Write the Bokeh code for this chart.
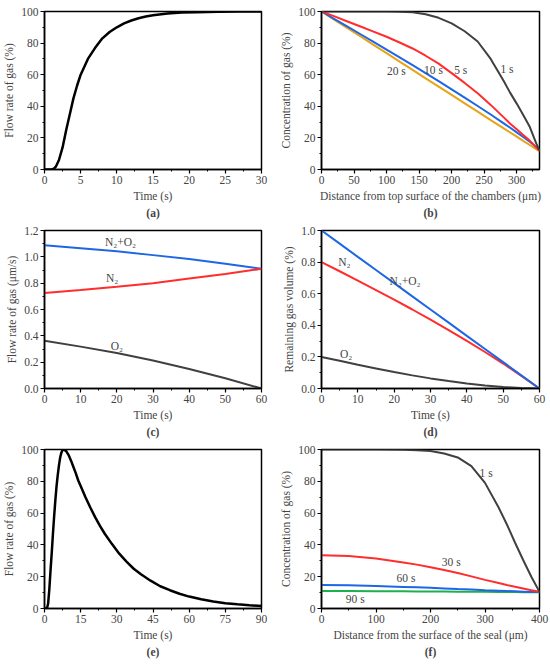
from bokeh.plotting import figure
from bokeh.layouts import gridplot
from bokeh.models import Range1d, FixedTicker, NumeralTickFormatter, Title, Label
from bokeh.embed import file_html
from bokeh.resources import INLINE

FONT = "Liberation Serif"
FS = "11.5px"

# (a) flow rate of gas vs time
a_time = [0, 0.5, 1.0, 1.3, 1.6, 2.0, 2.5, 3.0, 3.5, 4.0, 4.5, 5.0, 6.0, 7.0, 8.0,
          9.0, 10, 11, 12, 13, 14, 15, 17, 19, 21, 24, 27, 30]
a_flow = [0, 0, 0, 0.5, 2, 6, 14, 25, 35, 45, 53, 60, 70, 77, 83,
          87, 90, 92.5, 94.3, 95.7, 96.8, 97.6, 98.7, 99.3, 99.6, 99.9, 100, 100]

# (b) concentration vs distance from top surface of the chambers
b_dist = [0, 20, 40, 60, 80, 100, 120, 140, 160, 180, 200, 220, 240, 260, 280, 290, 300, 310, 320, 330, 335]
b_1s = [100, 100, 100, 100, 100, 100, 99.9, 99.5, 98.3, 96, 92.5, 87.5, 81, 70, 56,
        48.5, 41.7, 34.5, 27, 16.5, 12]
b_5s = [100, 96.9, 93.7, 90.5, 87.3, 84, 80.4, 76.6, 72, 67, 61, 54.8, 48.2, 40.9, 33,
        29, 25.5, 21.8, 18.3, 14, 12]
b_10s = [100, 95.2, 90.4, 85.6, 80.8, 75.9, 71, 66, 61, 55.9, 50.7, 45.5, 40.2, 34.8, 29.2,
         26.4, 23.5, 20.6, 17.6, 14.3, 12]
b_20s = [100, 94.7, 89.4, 84.2, 78.9, 73.6, 68.3, 63, 57.7, 52.5, 47.2, 41.9, 36.6, 31.3, 26,
         23.4, 20.8, 18.1, 15.5, 12.9, 11.5]

# (c) flow rate of gas (um/s) vs time
c_time = [0, 10, 20, 30, 40, 50, 60]
c_sum = [1.088, 1.066, 1.043, 1.013, 0.983, 0.948, 0.909]
c_n2 = [0.725, 0.748, 0.773, 0.80, 0.835, 0.87, 0.909]
c_o2 = [0.362, 0.318, 0.27, 0.212, 0.148, 0.078, 0.0]

# (d) remaining gas volume vs time
d_time = [0, 5, 10, 15, 20, 25, 30, 35, 40, 45, 50, 55, 60]
d_sum = [1.0, 0.917, 0.833, 0.75, 0.667, 0.583, 0.5, 0.417, 0.333, 0.25, 0.167, 0.083, 0.0]
d_n2 = [0.8, 0.742, 0.683, 0.623, 0.563, 0.5, 0.436, 0.37, 0.301, 0.231, 0.158, 0.08, 0.0]
d_o2 = [0.2, 0.175, 0.15, 0.127, 0.104, 0.083, 0.064, 0.047, 0.032, 0.019, 0.009, 0.003, 0.0]

# (e) flow rate of gas vs time
e_time = [0, 1, 1.5, 2, 2.5, 3, 3.5, 4, 4.5, 5, 5.5, 6, 6.5, 7, 7.5, 8, 9, 10, 11, 12, 13, 14,
          15, 17, 19, 21, 23, 25, 28, 31, 34, 37, 40, 44, 48, 52, 56, 60, 65, 70, 75, 80, 85, 90]
e_flow = [0, 0, 3, 12, 24, 35, 47, 58, 68, 77, 84, 90, 95, 98, 99.7, 100, 99, 96.5, 93, 89, 85,
          80.5, 77, 70, 63.5, 57.5, 52, 47, 40.5, 34.5, 29.5, 25, 21.5, 17.5, 14, 11.5, 9.3, 7.5,
          5.8, 4.4, 3.3, 2.6, 2, 1.5]

# (f) concentration vs distance from the surface of the seal
f_dist = [0, 50, 100, 150, 175, 200, 225, 250, 275, 300, 325, 340, 355, 370, 385, 400]
f_1s = [100, 100, 100, 99.8, 99.5, 99, 97.5, 95, 89.5, 79, 63.5, 53, 41.5, 30.5, 20, 10.5]
f_30s = [33.5, 33, 31.5, 29, 27.6, 26, 24.2, 22.3, 20.2, 18, 16, 14.8, 13.7, 12.6, 11.5, 10.5]
f_60s = [14.8, 14.6, 14.2, 13.6, 13.3, 13, 12.6, 12.2, 11.9, 11.5, 11.2, 11, 10.8, 10.6, 10.4, 10.3]
f_90s = [11, 11, 10.9, 10.8, 10.75, 10.7, 10.65, 10.6, 10.55, 10.5, 10.4, 10.35, 10.3, 10.25, 10.2, 10.2]

# tick positions
pct_ticks = [0, 20, 40, 60, 80, 100]
pct_minor = [10, 30, 50, 70, 90]
frac12_ticks = [0, 0.2, 0.4, 0.6, 0.8, 1.0, 1.2]
frac12_minor = [0.1, 0.3, 0.5, 0.7, 0.9, 1.1]
frac10_ticks = [0, 0.2, 0.4, 0.6, 0.8, 1.0]
frac10_minor = [0.1, 0.3, 0.5, 0.7, 0.9]
a_ticks = [0, 5, 10, 15, 20, 25, 30]
a_minor = [2.5, 7.5, 12.5, 17.5, 22.5, 27.5]
b_ticks = [0, 50, 100, 150, 200, 250, 300]
b_minor = [25, 75, 125, 175, 225, 275, 325]
cd_ticks = [0, 10, 20, 30, 40, 50, 60]
cd_minor = [5, 15, 25, 35, 45, 55]
e_ticks = [0, 15, 30, 45, 60, 75, 90]
e_minor = [7.5, 22.5, 37.5, 52.5, 67.5, 82.5]
f_ticks = [0, 100, 200, 300, 400]
f_minor = [50, 150, 250, 350]

BLACK = "#000000"
GRAY = "#404040"
RED = "#FF2D2D"
BLUE = "#1F66E5"
ORANGE = "#E8A317"
GREEN = "#1EB04E"


def panel(xlab, ylab, cap, xr, yr, xt, yt, w, h, left, right, top, bottom, yfmt=None):
    p = figure(width=w, height=h, x_range=Range1d(*xr), y_range=Range1d(*yr),
               toolbar_location=None, output_backend="svg",
               min_border_left=left, min_border_right=right, min_border_top=top,
               min_border_bottom=bottom)
    p.xaxis.ticker = FixedTicker(ticks=xt[0], minor_ticks=xt[1])
    p.yaxis.ticker = FixedTicker(ticks=yt[0], minor_ticks=yt[1])
    if yfmt:
        p.yaxis.formatter = NumeralTickFormatter(format=yfmt)
    p.xaxis.axis_label = xlab
    p.yaxis.axis_label = ylab
    for ax in (p.xaxis, p.yaxis):
        ax.axis_label_text_font = FONT
        ax.axis_label_text_font_size = FS
        ax.axis_label_text_font_style = "normal"
        ax.major_label_text_font = FONT
        ax.major_label_text_font_size = FS
        ax.axis_line_width = 1.5
        ax.major_tick_in = 0
        ax.major_tick_out = 4
        ax.minor_tick_in = 0
        ax.minor_tick_out = 2
        ax.major_tick_line_width = 1.2
        ax.axis_label_standoff = 3
        ax.major_label_standoff = 2
    p.xgrid.grid_line_color = None
    p.ygrid.grid_line_color = None
    p.outline_line_color = "black"
    p.outline_line_width = 1.5
    p.add_layout(Title(text=cap, align="center", text_font=FONT, text_font_size=FS,
                       text_font_style="bold", standoff=0), "below")
    return p


def note(p, x, y, text):
    p.add_layout(Label(x=x, y=y, text=text, text_font=FONT, text_font_size=FS,
                       text_align="center", text_baseline="middle"))


pa = panel("Time (s)", "Flow rate of gas (%)", "(a)", (0, 30), (0, 100),
           (a_ticks, a_minor), (pct_ticks, pct_minor), 275, 220, 41, 14, 11, 51)
pa.line(a_time, a_flow, line_color=BLACK, line_width=2.5)

pb = panel("Distance from top surface of the chambers (\u03bcm)", "Concentration of gas (%)", "(b)",
           (0, 335), (0, 100), (b_ticks, b_minor), (pct_ticks, pct_minor), 275, 220, 46, 7, 11, 51)
pb.line(b_dist, b_20s, line_color=ORANGE, line_width=2)
pb.line(b_dist, b_10s, line_color=BLUE, line_width=2)
pb.line(b_dist, b_5s, line_color=RED, line_width=2)
pb.line(b_dist, b_1s, line_color=GRAY, line_width=2)
note(pb, 285, 63.4, "1 s")
note(pb, 214, 63, "5 s")
note(pb, 172, 63, "10 s")
note(pb, 115, 62.5, "20 s")

pc = panel("Time (s)", "Flow rate of gas (\u03bcm/s)", "(c)", (0, 60), (0, 1.2),
           (cd_ticks, cd_minor), (frac12_ticks, frac12_minor), 275, 220, 39, 14, 10, 52, yfmt="0.0")
pc.line(c_time, c_sum, line_color=BLUE, line_width=2)
pc.line(c_time, c_n2, line_color=RED, line_width=2)
pc.line(c_time, c_o2, line_color=GRAY, line_width=2)
note(pc, 21, 1.115, "N\u2082+O\u2082")
note(pc, 18.7, 0.84, "N\u2082")
note(pc, 20, 0.32, "O\u2082")

pd = panel("Time (s)", "Remaining gas volume (%)", "(d)", (0, 60), (0, 1.0),
           (cd_ticks, cd_minor), (frac10_ticks, frac10_minor), 275, 220, 43, 11, 10, 52, yfmt="0.0")
pd.line(d_time, d_n2, line_color=RED, line_width=2)
pd.line(d_time, d_sum, line_color=BLUE, line_width=2)
pd.line(d_time, d_o2, line_color=GRAY, line_width=2)
note(pd, 6.3, 0.80, "N\u2082")
note(pd, 23, 0.68, "N\u2082+O\u2082")
note(pd, 6.8, 0.22, "O\u2082")

pe = panel("Time (s)", "Flow rate of gas (%)", "(e)", (0, 90), (0, 100),
           (e_ticks, e_minor), (pct_ticks, pct_minor), 275, 224, 39, 14, 9, 56)
pe.line(e_time, e_flow, line_color=BLACK, line_width=2.5)

pf = panel("Distance from the surface of the seal (\u03bcm)", "Concentration of gas (%)", "(f)",
           (0, 400), (0, 100), (f_ticks, f_minor), (pct_ticks, pct_minor), 275, 224, 46, 8, 9, 56)
pf.line(f_dist, f_90s, line_color=GREEN, line_width=2)
pf.line(f_dist, f_60s, line_color=BLUE, line_width=2)
pf.line(f_dist, f_30s, line_color=RED, line_width=2)
pf.line(f_dist, f_1s, line_color=GRAY, line_width=2)
note(pf, 302, 85.5, "1 s")
note(pf, 238, 29.3, "30 s")
note(pf, 155, 18.9, "60 s")
note(pf, 62, 5.7, "90 s")

grid = gridplot([[pa, pb], [pc, pd], [pe, pf]], toolbar_location=None)
open("out.html", "w").write(file_html(grid, INLINE))
